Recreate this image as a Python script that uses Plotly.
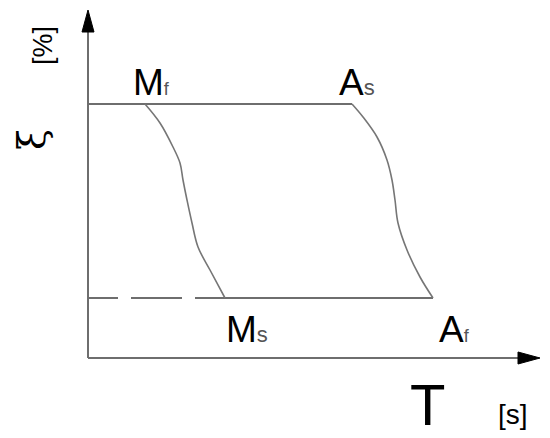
import plotly.graph_objects as go

# schematic units: 1 unit = 1 px, origin at the corner of the axes
t_mf_curve = [57, 72, 85, 92, 95, 99, 104, 110, 122, 137]
xi_mf_curve = [254, 235, 211, 195, 178, 158, 135, 111, 88, 60]
t_as_curve = [264, 275, 289, 299, 304, 307, 310, 319, 332, 345]
xi_as_curve = [254, 241, 221, 198, 178, 158, 135, 108, 81, 60]

xi_top = 254
xi_bottom = 60
t_axis_end = 452
xi_axis_end = 348

label_main = ['M', 'A', 'M', 'A']
label_sub = ['f', 's', 's', 'f']
label_t = [43, 249, 136, 349]
label_xi = [276, 276, 29, 29]

line_col = '#6e6e6e'
curve_col = '#767676'
font_main = 'Liberation Sans Narrow, Liberation Sans, Arial, sans-serif'
font_unit = 'Liberation Sans, Arial, sans-serif'

fig = go.Figure()

# axes
fig.add_trace(go.Scatter(x=[0, 0], y=[0, xi_axis_end - 20], mode='lines',
                         line=dict(color=line_col, width=2)))
fig.add_trace(go.Scatter(x=[0, t_axis_end - 20], y=[0, 0], mode='lines',
                         line=dict(color=line_col, width=2)))
# arrow heads
fig.add_trace(go.Scatter(x=[-6, 6, 0, -6], y=[xi_axis_end - 22, xi_axis_end - 22, xi_axis_end, xi_axis_end - 22],
                         mode='lines', fill='toself', fillcolor='black', line=dict(color='black', width=1)))
fig.add_trace(go.Scatter(x=[t_axis_end - 22, t_axis_end - 22, t_axis_end, t_axis_end - 22], y=[-6, 6, 0, -6],
                         mode='lines', fill='toself', fillcolor='black', line=dict(color='black', width=1)))

# upper level
fig.add_trace(go.Scatter(x=[0, t_as_curve[0]], y=[xi_top, xi_top], mode='lines',
                         line=dict(color=line_col, width=2)))
# lower level: dashed part, then solid part
fig.add_trace(go.Scatter(x=[0, t_mf_curve[-1]], y=[xi_bottom, xi_bottom], mode='lines',
                         line=dict(color=line_col, width=2, dash='30px,13px,51px,13px,30px')))
fig.add_trace(go.Scatter(x=[t_mf_curve[-1], t_as_curve[-1]], y=[xi_bottom, xi_bottom], mode='lines',
                         line=dict(color=line_col, width=2)))

# transformation curves
fig.add_trace(go.Scatter(x=t_mf_curve, y=xi_mf_curve, mode='lines', line_shape='spline',
                         line=dict(color=curve_col, width=1.6)))
fig.add_trace(go.Scatter(x=t_as_curve, y=xi_as_curve, mode='lines', line_shape='spline',
                         line=dict(color=curve_col, width=1.6)))

for m, s, tx, ty in zip(label_main, label_sub, label_t, label_xi):
    sub_size = 18 if s == 'f' else 22
    txt = m + "<span style='font-size:%dpx;color:#555'>%s</span>" % (sub_size, s)
    fig.add_annotation(x=tx, y=ty, text=txt, showarrow=False, xanchor='left', yanchor='middle',
                       font=dict(family=font_main, size=37, color='black'))

fig.add_annotation(x=339, y=-46, text='T', showarrow=False, xanchor='center', yanchor='middle',
                   font=dict(family=font_unit, size=58, color='black'))
fig.add_annotation(x=425, y=-56, text='[s]', showarrow=False, xanchor='center', yanchor='middle',
                   font=dict(family=font_unit, size=28, color='black'))
fig.add_annotation(x=-45, y=312, text='[%]', showarrow=False, textangle=-90,
                   xanchor='center', yanchor='middle',
                   font=dict(family=font_unit, size=27, color='black'))
fig.add_annotation(x=-56, y=218, text='ξ', showarrow=False, textangle=-90,
                   xanchor='center', yanchor='middle',
                   font=dict(family='DejaVu Serif, serif', size=38, color='black'))

# the page has an 8px body margin, so the figure is shrunk and the ranges shifted to match
fig.update_layout(
    width=542,
    height=430,
    margin=dict(l=0, r=0, t=0, b=0),
    showlegend=False,
    plot_bgcolor='white',
    paper_bgcolor='white',
    xaxis=dict(range=[-80, 462], visible=False, fixedrange=True),
    yaxis=dict(range=[-80, 350], visible=False, fixedrange=True),
)

fig.write_html("out.html")
